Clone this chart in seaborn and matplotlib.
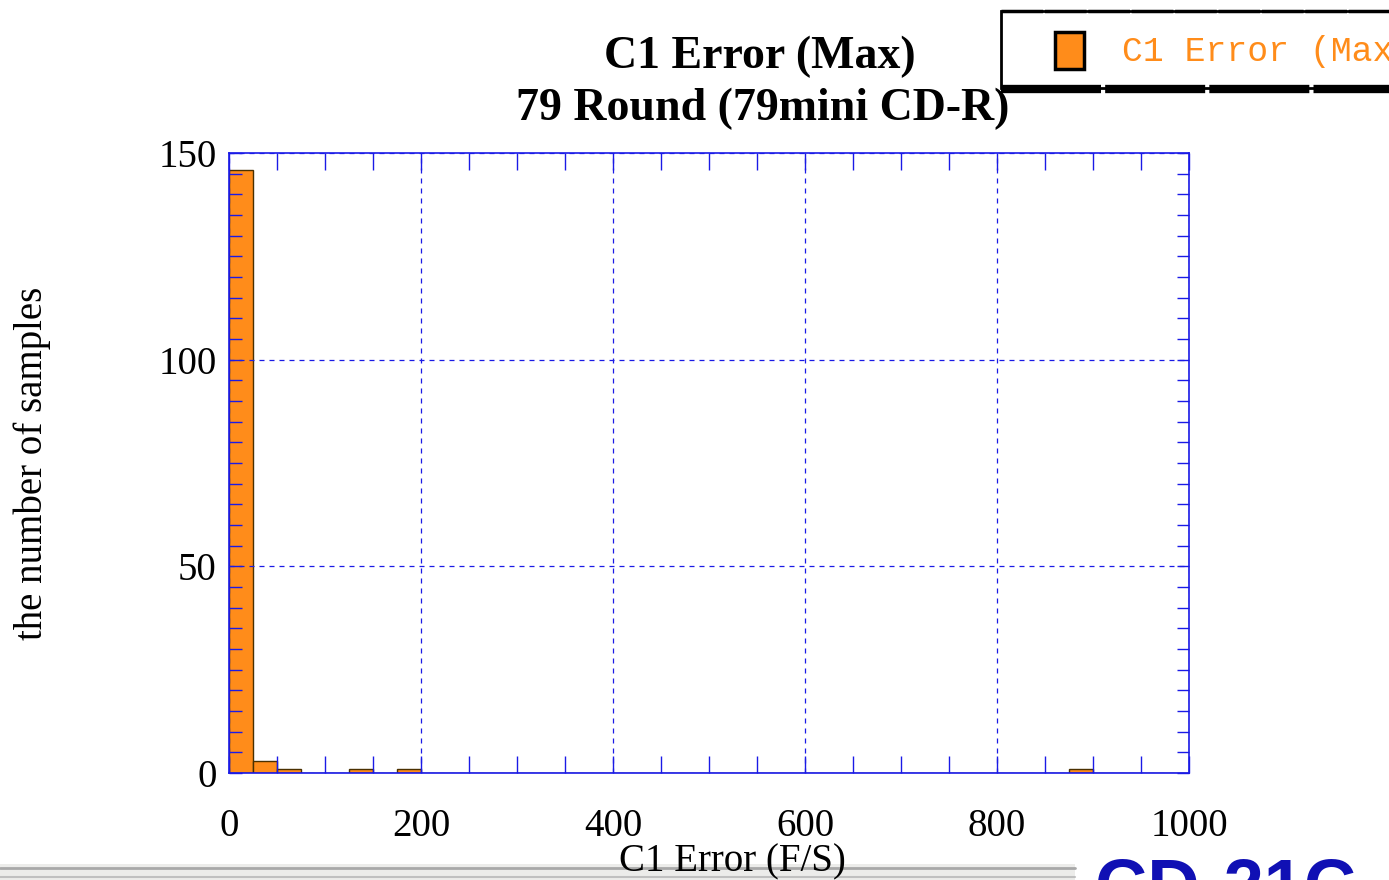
import numpy as np
import pandas as pd
import matplotlib
matplotlib.use("Agg")
import matplotlib.pyplot as plt
import seaborn as sns
from matplotlib.patches import Rectangle
from matplotlib.lines import Line2D
from matplotlib.ticker import MultipleLocator

# histogram data (bin width 25)
bin_edges = list(range(0, 1001, 25))
bin_left = [0, 25, 50, 125, 175, 875]
counts = [146, 3, 1, 1, 1, 1]

title_lines = ["C1 Error (Max)", "79 Round (79mini CD-R)"]
legend_label = "C1 Error (Max)"
x_label = "C1 Error (F/S)"
y_label = "the number of samples"

bar_color = "#ff8c1a"
axis_blue = "#1a1ae6"

sns.set_style("white")
plt.rcParams['font.family'] = ['Liberation Serif', 'DejaVu Serif']
plt.rcParams['text.color'] = 'black'
plt.rcParams['xtick.labelcolor'] = 'black'
plt.rcParams['ytick.labelcolor'] = 'black'

fig = plt.figure(figsize=(13.89, 8.8), dpi=100)
ax = fig.add_axes([229 / 1389, 1 - 773 / 880, 960 / 1389, 620 / 880])

df = pd.DataFrame({"err": [b + 12.5 for b in bin_left], "n": counts})
sns.histplot(data=df, x="err", weights="n", bins=bin_edges, color=bar_color,
             alpha=1, edgecolor="#4a3000", linewidth=1, ax=ax)

ax.set_xlim(0, 1000)
ax.set_ylim(0, 150)
ax.set_xlabel("")
ax.set_ylabel("")
ax.xaxis.set_major_locator(MultipleLocator(200))
ax.xaxis.set_minor_locator(MultipleLocator(50))
ax.yaxis.set_major_locator(MultipleLocator(50))
ax.yaxis.set_minor_locator(MultipleLocator(5))
ax.tick_params(axis="x", which="both", direction="in", top=True, bottom=True,
               length=12, width=1, color=axis_blue, labelsize=28, pad=25)
ax.tick_params(axis="y", which="both", direction="in", left=True, right=True,
               length=9, width=1, color=axis_blue, labelsize=28, pad=9)
for sp in ax.spines.values():
    sp.set_color(axis_blue)
    sp.set_linewidth(1.2)
ax.grid(True, which="major", color=axis_blue, linestyle=(0, (4, 4)), linewidth=0.9)
ax.set_axisbelow(False)

# titles and axis labels placed as in the reference
fig.text(760 / 1389, 1 - 57 / 880, title_lines[0], ha="center", va="center",
         fontsize=33, fontweight="bold")
fig.text(763 / 1389, 1 - 109 / 880, title_lines[1], ha="center", va="center",
         fontsize=33, fontweight="bold")
fig.text(732 / 1389, 1 - 862 / 880, x_label, ha="center", va="center", fontsize=28)
fig.text(32 / 1389, 1 - 463 / 880, y_label, ha="center", va="center",
         rotation=90, fontsize=28)

# legend box in the top right corner (runs off the edge)
fig.add_artist(Rectangle((1001 / 1389, 1 - 88 / 880), 400 / 1389, 77 / 880,
                         transform=fig.transFigure, facecolor="white",
                         edgecolor="black", linewidth=2))
fig.add_artist(Line2D([1001 / 1389, 1], [1 - 89 / 880, 1 - 89 / 880],
                      transform=fig.transFigure, color="black", linewidth=6,
                      linestyle=(0, (12, 0.5))))
fig.add_artist(Line2D([1001 / 1389, 1], [1 - 11 / 880, 1 - 11 / 880],
                      transform=fig.transFigure, color="black", linewidth=2.5,
                      linestyle=(0, (12, 0.5))))
fig.add_artist(Rectangle((1055 / 1389, 1 - 69 / 880), 29 / 1389, 37 / 880,
                         transform=fig.transFigure, facecolor=bar_color,
                         edgecolor="black", linewidth=2.5))
fig.text(1122 / 1389, 1 - 51 / 880, legend_label, ha="left", va="center",
         fontsize=25, color=bar_color, family=["Liberation Mono", "DejaVu Sans Mono"])

# page decorations at the bottom
fig.add_artist(Rectangle((0, 0), 1075 / 1389, 16 / 880, transform=fig.transFigure,
                         facecolor="#ececea", edgecolor="none"))
fig.add_artist(Line2D([0, 1075 / 1389], [1 - 868 / 880, 1 - 868 / 880],
                      transform=fig.transFigure, color="#a8a8a8", linewidth=2))
fig.add_artist(Line2D([0, 1075 / 1389], [1 - 877 / 880, 1 - 877 / 880],
                      transform=fig.transFigure, color="#c0c0c0", linewidth=1.5))
fig.text(1095 / 1389, 1 - 856 / 880, "CD-21C", ha="left", va="top", fontsize=52,
         fontweight="bold", color="#1010b4", family=["Liberation Sans", "DejaVu Sans"])

fig.savefig("out.png", dpi=100)
